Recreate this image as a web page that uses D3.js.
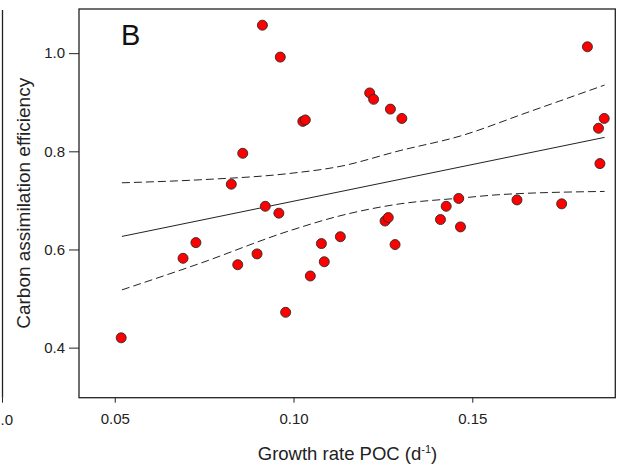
<!DOCTYPE html>
<html>
<head>
<meta charset="utf-8">
<script src="https://cdn.jsdelivr.net/npm/d3@7"></script>
<style>
  html, body { margin: 0; padding: 0; background: #fff; }
  svg { display: block; font-family: "Liberation Sans", Arial, sans-serif; }
</style>
</head>
<body>
<svg id="chart" width="617" height="470"></svg>
<script>
// ---- data ----
const growthRate = [0.0518, 0.0691, 0.0727, 0.0826, 0.0844, 0.0858, 0.0898, 0.0913, 0.0921, 0.0959,
  0.0963, 0.0978, 0.1026, 0.1033, 0.1047, 0.1078, 0.1086, 0.1131, 0.1213, 0.1224,
  0.1256, 0.1265, 0.1271, 0.1284, 0.1303, 0.1411, 0.1427, 0.1462, 0.1467, 0.1625,
  0.1750, 0.1822, 0.1853, 0.1857, 0.1869];
const efficiency = [0.420, 0.582, 0.614, 0.733, 0.569, 0.796, 0.591, 1.057, 0.688, 0.674,
  0.992, 0.472, 0.861, 0.864, 0.546, 0.612, 0.575, 0.626, 0.919, 0.906,
  0.658, 0.665, 0.886, 0.610, 0.867, 0.661, 0.688, 0.704, 0.646, 0.701,
  0.693, 1.013, 0.847, 0.775, 0.867];

const fitX = [0.052, 0.187];
const fitY = [0.6266, 0.8284];

const upperX = [0.052, 0.0738, 0.099, 0.113, 0.1298, 0.1466, 0.1653, 0.187];
const upperY = [0.7359, 0.742, 0.755, 0.7693, 0.8015, 0.8311, 0.879, 0.935];
const lowerX = [0.052, 0.0738, 0.099, 0.113, 0.1298, 0.1466, 0.1578, 0.187];
const lowerY = [0.5177, 0.5716, 0.6384, 0.6686, 0.693, 0.7047, 0.7118, 0.7183];

const xTicks = [0.05, 0.10, 0.15];
const yTicks = [0.4, 0.6, 0.8, 1.0];
const panelLabel = "B";
const yTitle = "Carbon assimilation efficiency";
const edgeLabel = ".0"; // visible part of the neighbouring panel's tick label

// ---- drawing ----
const svg = d3.select("#chart");
const pLeft = 79, pRight = 615.3, pTop = 9, pBottom = 397.7;
const x = d3.scaleLinear().domain([0.04, 0.19]).range([pLeft, pRight]);
const y = d3.scaleLinear().domain([0.298, 1.09]).range([pBottom, pTop]);
const ink = "#222";

// remnant of neighbouring panel on the far left
svg.append("line").attr("x1", 2.5).attr("x2", 2.5).attr("y1", 10).attr("y2", pBottom)
  .attr("stroke", ink).attr("stroke-width", 1.3);
svg.append("line").attr("x1", 2.5).attr("x2", 2.5).attr("y1", pBottom).attr("y2", pBottom + 5)
  .attr("stroke", ink).attr("stroke-width", 1);
svg.append("text").attr("x", 0.5).attr("y", 425).attr("text-anchor", "start")
  .attr("font-size", 15).attr("fill", ink).text(edgeLabel);

// axes
const xAxis = d3.axisBottom(x).tickValues(xTicks).tickFormat(d3.format(".2f")).tickSize(5).tickPadding(11);
const gx = svg.append("g").attr("transform", `translate(0,${pBottom})`).call(xAxis);
gx.select(".domain").remove();
gx.selectAll("line").attr("stroke", ink);
gx.selectAll("text").attr("font-size", 15).attr("fill", ink).attr("font-family", "Liberation Sans, Arial, sans-serif");

const yAxis = d3.axisLeft(y).tickValues(yTicks).tickFormat(d3.format(".1f")).tickSize(10).tickPadding(4);
const gy = svg.append("g").attr("transform", `translate(${pLeft},0)`).call(yAxis);
gy.select(".domain").remove();
gy.selectAll("line").attr("stroke", ink);
gy.selectAll("text").attr("font-size", 15).attr("fill", ink).attr("font-family", "Liberation Sans, Arial, sans-serif");

// frame
svg.append("rect").attr("x", pLeft).attr("y", pTop).attr("width", pRight - pLeft).attr("height", pBottom - pTop)
  .attr("fill", "none").attr("stroke", ink).attr("stroke-width", 1.3);

// regression and confidence bands
const line = d3.line().x(d => x(d[0])).y(d => y(d[1])).curve(d3.curveMonotoneX);
svg.append("path").datum(d3.zip(fitX, fitY)).attr("d", line)
  .attr("fill", "none").attr("stroke", ink).attr("stroke-width", 1);
svg.append("path").datum(d3.zip(upperX, upperY)).attr("d", line)
  .attr("fill", "none").attr("stroke", ink).attr("stroke-width", 1).attr("stroke-dasharray", "8,4");
svg.append("path").datum(d3.zip(lowerX, lowerY)).attr("d", line)
  .attr("fill", "none").attr("stroke", ink).attr("stroke-width", 1).attr("stroke-dasharray", "8,4");

// points
svg.append("g").selectAll("circle").data(d3.zip(growthRate, efficiency)).join("circle")
  .attr("cx", d => x(d[0])).attr("cy", d => y(d[1])).attr("r", 5)
  .attr("fill", "#ff0000").attr("stroke", "#2a2a2a").attr("stroke-width", 0.9);

// panel label
svg.append("text").attr("x", 121).attr("y", 44.5).attr("font-size", 29).attr("fill", "#111").text(panelLabel);

// axis titles
const xt = svg.append("text").attr("x", 347.5).attr("y", 460).attr("text-anchor", "middle")
  .attr("font-size", 18.5).attr("fill", ink);
xt.append("tspan").text("Growth rate POC (d");
xt.append("tspan").attr("dy", -7).attr("font-size", 11).text("-1");
xt.append("tspan").attr("dy", 7).text(")");

svg.append("text").attr("transform", "translate(29.5,203.3) rotate(-90)").attr("text-anchor", "middle")
  .attr("font-size", 19).attr("fill", ink).text(yTitle);
</script>
</body>
</html>
